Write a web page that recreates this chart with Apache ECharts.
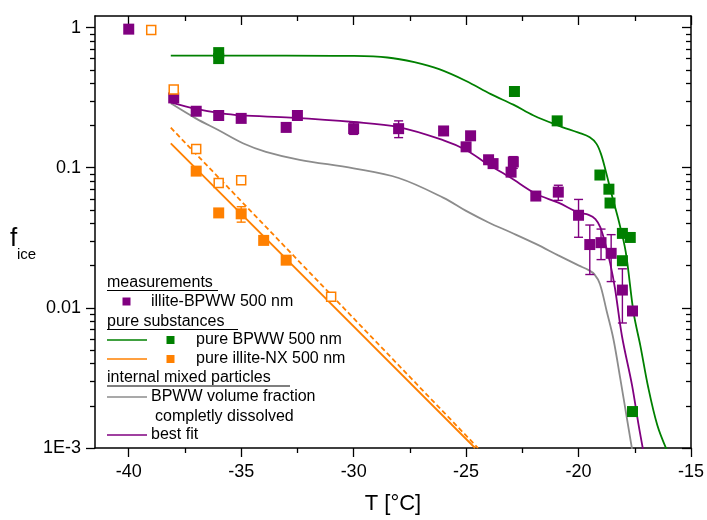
<!DOCTYPE html>
<html><head><meta charset="utf-8">
<script src="https://cdn.jsdelivr.net/npm/echarts@6/dist/echarts.min.js"></script>
<style>html,body{margin:0;padding:0;background:#fff}#c{width:707px;height:520px}</style>
</head><body><div id="c"></div>
<script>
// ---- tick values / labels ----
const xMajor = [-40, -35, -30, -25, -20, -15];
const xMinor = [-37.5, -32.5, -27.5, -22.5, -17.5];
const yMajor = [0.001, 0.01, 0.1, 1];
const yLabels = ['1E-3', '0.01', '0.1', '1'];
const yMinor = [0.002, 0.003, 0.004, 0.005, 0.006, 0.007, 0.008, 0.009,
                0.02, 0.03, 0.04, 0.05, 0.06, 0.07, 0.08, 0.09,
                0.2, 0.3, 0.4, 0.5, 0.6, 0.7, 0.8, 0.9];

// ---- measurements: illite-BPWW 500 nm ----
const mixT = [-40, -38, -37, -36, -35, -33, -32.5, -30, -28, -26, -25, -24.8, -24, -23.8, -23, -22.9, -21.9, -20.9, -20, -19.5, -19, -18.55, -18.05, -17.6];
const mixF = [0.975, 0.315, 0.253, 0.236, 0.225, 0.194, 0.236, 0.19, 0.19, 0.183, 0.141, 0.169, 0.114, 0.107, 0.093, 0.11, 0.0628, 0.067, 0.0458, 0.0283, 0.0292, 0.0245, 0.0134, 0.0095];
const mixErrT = [-30, -28, -22.9, -20.9, -20, -19.5, -19, -18.55, -18.05];
const mixErrLo = [0.173, 0.164, 0.099, 0.0585, 0.0319, 0.0173, 0.0221, 0.0154, 0.0078];
const mixErrHi = [0.21, 0.216, 0.12, 0.075, 0.0594, 0.039, 0.0365, 0.0333, 0.019];

// ---- pure BPWW 500 nm ----
const bpwwT = [-36, -36, -22.85, -20.95, -19.05, -18.65, -18.6, -18.05, -17.7, -18.05, -17.6];
const bpwwF = [0.663, 0.601, 0.35, 0.216, 0.0887, 0.0703, 0.056, 0.034, 0.0318, 0.0217, 0.00182];

// ---- pure illite-NX 500 nm ----
const nxT = [-37, -36, -35, -34, -33];
const nxF = [0.0946, 0.0476, 0.0469, 0.0303, 0.0219];
const nxErrT = [-35];
const nxErrLo = [0.0409];
const nxErrHi = [0.0527];
const nxOpenT = [-39, -38, -37, -36, -35, -31];
const nxOpenF = [0.963, 0.362, 0.136, 0.0779, 0.0813, 0.012];

// ---- model curves ----
const nxFitT = [-38.13, -24.6];
const nxFitF = [0.149, 0.001];
const nxFit2T = [-38.13, -24.47];
const nxFit2F = [0.193, 0.001];

const bpwwFitT = [-38.13, -33, -30, -28.5, -27.3, -26.2, -25.0, -23.9, -22.9, -22.0, -20.9, -20.0, -19.5, -19.2, -19.0, -18.8, -18.5, -18.2, -17.9, -17.55, -17.25, -16.9, -16.5, -16.09];
const bpwwFitF = [0.631, 0.632, 0.628, 0.612, 0.566, 0.505, 0.416, 0.335, 0.282, 0.236, 0.2, 0.178, 0.165, 0.148, 0.125, 0.096, 0.062, 0.041, 0.025, 0.0092, 0.00536, 0.0027, 0.00146, 0.00098];

const dissT = [-38.13, -37.0, -36.0, -34.9, -33.9, -32.4, -30.0, -28.0, -26.0, -25.0, -24.0, -23.0, -21.9, -20.9, -20.0, -19.55, -19.3, -19.05, -18.75, -18.45, -18.14, -17.85, -17.62];
const dissF = [0.288, 0.224, 0.185, 0.149, 0.130, 0.114, 0.099, 0.0845, 0.061, 0.0492, 0.0407, 0.0345, 0.0286, 0.0237, 0.0201, 0.0186, 0.0174, 0.0148, 0.0095, 0.0060, 0.0031, 0.00163, 0.00098];

const bestT = [-38.13, -37.0, -36.0, -35.0, -32.8, -30.0, -28.0, -26.0, -25.0, -24.0, -23.05, -21.9, -20.9, -20.0, -19.55, -19.25, -19.03, -18.81, -18.59, -18.38, -18.07, -17.62, -17.33, -17.12];
const bestF = [0.293, 0.263, 0.246, 0.236, 0.228, 0.212, 0.195, 0.157, 0.134, 0.105, 0.0855, 0.0652, 0.0563, 0.0479, 0.0461, 0.043, 0.0375, 0.0286, 0.0207, 0.0138, 0.0063, 0.0028, 0.00146, 0.00095];

const PURPLE = '#800080', GREEN = '#008000', ORANGE = '#ff8000', GRAY = '#8c8c8c';
const FONT = '"Liberation Sans", Arial, sans-serif';

const zip = (a, b) => a.map((v, i) => [v, b[i]]);
const zip3 = (a, b, c) => a.map((v, i) => [v, b[i], c[i]]);

function errSeries(t, lo, hi, color) {
  return {
    type: 'custom', z: 4,
    renderItem: (params, api) => {
      const p1 = api.coord([api.value(0), api.value(1)]);
      const p2 = api.coord([api.value(0), api.value(2)]);
      const w = 4.5, st = { stroke: color, lineWidth: 1.4 };
      return { type: 'group', children: [
        { type: 'line', shape: { x1: p1[0], y1: p1[1], x2: p2[0], y2: p2[1] }, style: st },
        { type: 'line', shape: { x1: p1[0] - w, y1: p1[1], x2: p1[0] + w, y2: p1[1] }, style: st },
        { type: 'line', shape: { x1: p2[0] - w, y1: p2[1], x2: p2[0] + w, y2: p2[1] }, style: st }
      ]};
    },
    encode: { x: 0, y: [1, 2] },
    data: zip3(t, lo, hi)
  };
}

function lineSeries(t, f, color, extra) {
  return Object.assign({
    type: 'line', data: zip(t, f), showSymbol: false, symbol: 'none',
    smooth: 0.35, z: 2,
    lineStyle: { color: color, width: 1.8 }
  }, extra || {});
}

const xBase = { type: 'value', min: -41.5, max: -15, splitLine: { show: false } };
const yBase = { type: 'log', logBase: 10, min: 0.001, max: 1.21, splitLine: { show: false } };
const axLine = { show: true, lineStyle: { color: '#000', width: 1.5 } };

const option = {
  animation: false,
  backgroundColor: '#fff',
  grid: { left: 95, right: 16, top: 16, bottom: 67, containLabel: false },
  xAxis: [
    Object.assign({}, xBase, { position: 'bottom', axisLine: axLine,
      axisTick: { show: true, inside: false, length: 9, customValues: xMajor, lineStyle: { color: '#000', width: 1.3 } },
      axisLabel: { show: true, customValues: xMajor, margin: 15, fontSize: 18, color: '#000', fontFamily: FONT },
      name: 'T [°C]', nameLocation: 'middle', nameGap: 45,
      nameTextStyle: { fontSize: 22, color: '#000', fontFamily: FONT } }),
    Object.assign({}, xBase, { position: 'bottom', axisLine: { show: false },
      axisTick: { show: true, inside: false, length: 5, customValues: xMinor, lineStyle: { color: '#000', width: 1.3 } },
      axisLabel: { show: false } }),
    Object.assign({}, xBase, { position: 'top', axisLine: axLine,
      axisTick: { show: true, inside: true, length: 9, customValues: xMajor, lineStyle: { color: '#000', width: 1.3 } },
      axisLabel: { show: false } }),
    Object.assign({}, xBase, { position: 'top', axisLine: { show: false },
      axisTick: { show: true, inside: true, length: 5, customValues: xMinor, lineStyle: { color: '#000', width: 1.3 } },
      axisLabel: { show: false } })
  ],
  yAxis: [
    Object.assign({}, yBase, { position: 'left', axisLine: axLine,
      axisTick: { show: true, inside: false, length: 9, customValues: yMajor, lineStyle: { color: '#000', width: 1.3 } },
      axisLabel: { show: true, customValues: yMajor, margin: 14, fontSize: 18, color: '#000', fontFamily: FONT,
        formatter: v => { const i = yMajor.findIndex(m => Math.abs(Math.log10(m) - Math.log10(v)) < 1e-6); return i >= 0 ? yLabels[i] : ''; } } }),
    Object.assign({}, yBase, { position: 'left', axisLine: { show: false },
      axisTick: { show: true, inside: false, length: 5, customValues: yMinor, lineStyle: { color: '#000', width: 1.3 } },
      axisLabel: { show: false } }),
    Object.assign({}, yBase, { position: 'right', axisLine: axLine,
      axisTick: { show: true, inside: true, length: 9, customValues: yMajor, lineStyle: { color: '#000', width: 1.3 } },
      axisLabel: { show: false } }),
    Object.assign({}, yBase, { position: 'right', axisLine: { show: false },
      axisTick: { show: true, inside: true, length: 5, customValues: yMinor, lineStyle: { color: '#000', width: 1.3 } },
      axisLabel: { show: false } })
  ],
  series: [
    lineSeries(dissT, dissF, GRAY),
    lineSeries(bestT, bestF, PURPLE),
    lineSeries(bpwwFitT, bpwwFitF, GREEN),
    lineSeries(nxFitT, nxFitF, ORANGE, { smooth: false }),
    lineSeries(nxFit2T, nxFit2F, ORANGE, { smooth: false, lineStyle: { color: ORANGE, width: 1.8, type: [5, 3] } }),
    errSeries(mixErrT, mixErrLo, mixErrHi, PURPLE),
    errSeries(nxErrT, nxErrLo, nxErrHi, ORANGE),
    { type: 'scatter', z: 5, symbol: 'rect', symbolSize: 11, data: zip(mixT, mixF), itemStyle: { color: PURPLE, opacity: 1 } },
    { type: 'scatter', z: 5, symbol: 'rect', symbolSize: 11, data: zip(bpwwT, bpwwF), itemStyle: { color: GREEN, opacity: 1 } },
    { type: 'scatter', z: 5, symbol: 'rect', symbolSize: 11, data: zip(nxT, nxF), itemStyle: { color: ORANGE, opacity: 1 } },
    { type: 'scatter', z: 5, symbol: 'rect', symbolSize: 9, data: zip(nxOpenT, nxOpenF), itemStyle: { color: '#fff', borderColor: ORANGE, borderWidth: 1.5, opacity: 1 } }
  ],
  graphic: [
    { type: 'text', left: 10, top: 226, style: { text: 'f', font: '26px ' + FONT, fill: '#000' } },
    { type: 'text', left: 17, top: 247, style: { text: 'ice', font: '15px ' + FONT, fill: '#000' } },
    // legend
    { type: 'text', x: 107, y: 283, style: { text: 'measurements', font: '16px ' + FONT, fill: '#000', verticalAlign: 'middle' } },
    { type: 'line', shape: { x1: 107, y1: 290.5, x2: 218, y2: 290.5 }, style: { stroke: '#000', lineWidth: 1.2 } },
    { type: 'rect', shape: { x: 122.5, y: 297.5, width: 8, height: 8 }, style: { fill: PURPLE } },
    { type: 'text', x: 151, y: 302, style: { text: 'illite-BPWW 500 nm', font: '16px ' + FONT, fill: '#000', verticalAlign: 'middle' } },
    { type: 'text', x: 107, y: 322, style: { text: 'pure substances', font: '16px ' + FONT, fill: '#000', verticalAlign: 'middle' } },
    { type: 'line', shape: { x1: 107, y1: 329.5, x2: 238, y2: 329.5 }, style: { stroke: '#000', lineWidth: 1.2 } },
    { type: 'line', shape: { x1: 107, y1: 340, x2: 147, y2: 340 }, style: { stroke: GREEN, lineWidth: 1.5 } },
    { type: 'rect', shape: { x: 166.5, y: 336, width: 8, height: 8 }, style: { fill: GREEN } },
    { type: 'text', x: 196, y: 340, style: { text: 'pure BPWW 500 nm', font: '16px ' + FONT, fill: '#000', verticalAlign: 'middle' } },
    { type: 'line', shape: { x1: 107, y1: 359, x2: 147, y2: 359 }, style: { stroke: ORANGE, lineWidth: 1.5 } },
    { type: 'rect', shape: { x: 166.5, y: 355, width: 8, height: 8 }, style: { fill: ORANGE } },
    { type: 'text', x: 196, y: 359, style: { text: 'pure illite-NX 500 nm', font: '16px ' + FONT, fill: '#000', verticalAlign: 'middle' } },
    { type: 'text', x: 107, y: 378, style: { text: 'internal mixed particles', font: '16px ' + FONT, fill: '#000', verticalAlign: 'middle' } },
    { type: 'line', shape: { x1: 107, y1: 386, x2: 290, y2: 386 }, style: { stroke: '#000', lineWidth: 1.2 } },
    { type: 'line', shape: { x1: 107, y1: 397, x2: 147, y2: 397 }, style: { stroke: GRAY, lineWidth: 1.5 } },
    { type: 'text', x: 151, y: 397, style: { text: 'BPWW volume fraction', font: '16px ' + FONT, fill: '#000', verticalAlign: 'middle' } },
    { type: 'text', x: 155, y: 417, style: { text: 'completly dissolved', font: '16px ' + FONT, fill: '#000', verticalAlign: 'middle' } },
    { type: 'line', shape: { x1: 107, y1: 435, x2: 147, y2: 435 }, style: { stroke: PURPLE, lineWidth: 1.5 } },
    { type: 'text', x: 151, y: 435, style: { text: 'best fit', font: '16px ' + FONT, fill: '#000', verticalAlign: 'middle' } }
  ]
};

const chart = echarts.init(document.getElementById('c'), null, { renderer: 'canvas' });
chart.setOption(option);
</script>
</body></html>
